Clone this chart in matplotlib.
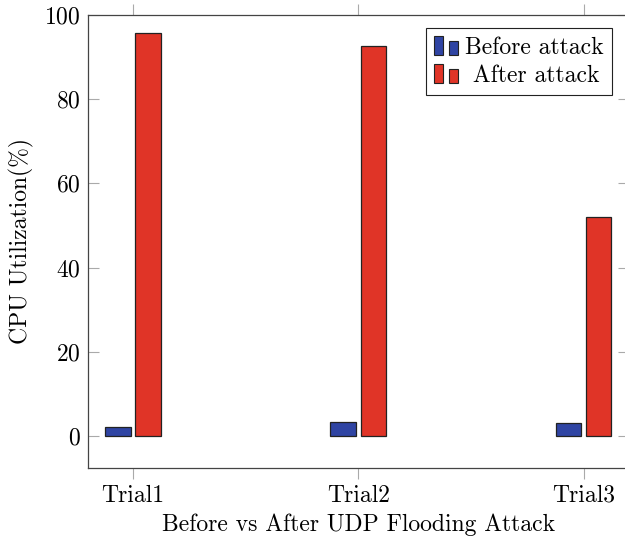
"""CPU utilisation before and after a UDP flooding attack, pgfplots-style bar chart."""

import matplotlib
matplotlib.use("Agg")
import matplotlib.pyplot as plt
import numpy as np
from matplotlib.legend_handler import HandlerBase
from matplotlib.patches import Rectangle

TRIALS        = ["Trial1", "Trial2", "Trial3"]
BEFORE_ATTACK = [2.2, 3.4, 3.2]
AFTER_ATTACK  = [95.6, 92.6, 52.1]
SERIES_LABELS = ["Before attack", " After attack"]

BLUE = "#2f44a3"
RED  = "#e03427"
FS   = 17

plt.rcParams["font.family"] = ["cmr10", "DejaVu Serif"]
plt.rcParams["mathtext.fontset"] = "cm"
plt.rcParams["axes.formatter.use_mathtext"] = True


class BarLegendHandler(HandlerBase):
    """Two small bars of different height, like pgfplots' ybar legend."""

    def create_artists(self, legend, orig_handle, xdescent, ydescent,
                       width, height, fontsize, trans):
        w = width * 0.36
        h1 = height * 1.15
        h2 = height * 0.85
        y0 = -ydescent - height * 0.1
        kw = dict(facecolor=orig_handle.get_facecolor(), edgecolor="#222222",
                  linewidth=0.8, transform=trans)
        r1 = Rectangle((-xdescent, y0), w, h1, **kw)
        r2 = Rectangle((-xdescent + width - w, y0), w, h2, **kw)
        return [r1, r2]


fig = plt.figure(figsize=(6.25, 5.43), dpi=100)
ax = fig.add_axes([88 / 625, 1 - 467.7 / 543, (628.6 - 88) / 625, (467.7 - 14.7) / 543])

x = np.arange(len(TRIALS))
width  = 0.114
offset = 0.067
b1 = ax.bar(x - offset, BEFORE_ATTACK, width, color=BLUE, edgecolor="#222222",
            linewidth=0.9, label=SERIES_LABELS[0], zorder=3)
b2 = ax.bar(x + offset, AFTER_ATTACK, width, color=RED, edgecolor="#222222",
            linewidth=0.9, label=SERIES_LABELS[1], zorder=3)

ax.set_xlim(-0.2, 2.2)
ax.set_ylim(-7.47, 100)
ax.set_xticks(x)
ax.set_xticklabels(TRIALS)
ax.set_yticks([0, 20, 40, 60, 80, 100])

for s in ax.spines.values():
    s.set_color("#444444")
    s.set_linewidth(0.9)

ax.tick_params(axis="x", direction="out", length=7.7, width=0.8, color="#aaaaaa",
               top=True, bottom=True, labelsize=FS, pad=4.5)
ax.tick_params(axis="y", direction="in", length=7.7, width=0.8, color="#aaaaaa",
               left=True, right=True, labelsize=FS, pad=5.5)

ax.set_xlabel("Before vs After UDP Flooding Attack", fontsize=FS, labelpad=5)
ax.set_ylabel("CPU Utilization(%)", fontsize=FS, labelpad=7)

leg = ax.legend(handles=[b1[0], b2[0]], labels=SERIES_LABELS,
                handler_map={Rectangle: BarLegendHandler()},
                loc="upper right", bbox_to_anchor=(611.7 / 625, 1 - 28.3 / 543),
                bbox_transform=fig.transFigure, borderaxespad=0,
                fontsize=FS, fancybox=False, framealpha=1, edgecolor="#222222",
                handlelength=1.0, handleheight=0.7, handletextpad=0.3,
                labelspacing=0.25, borderpad=0.35)
leg.get_frame().set_linewidth(0.8)

fig.savefig("out.png", dpi=100)
plt.close(fig)
